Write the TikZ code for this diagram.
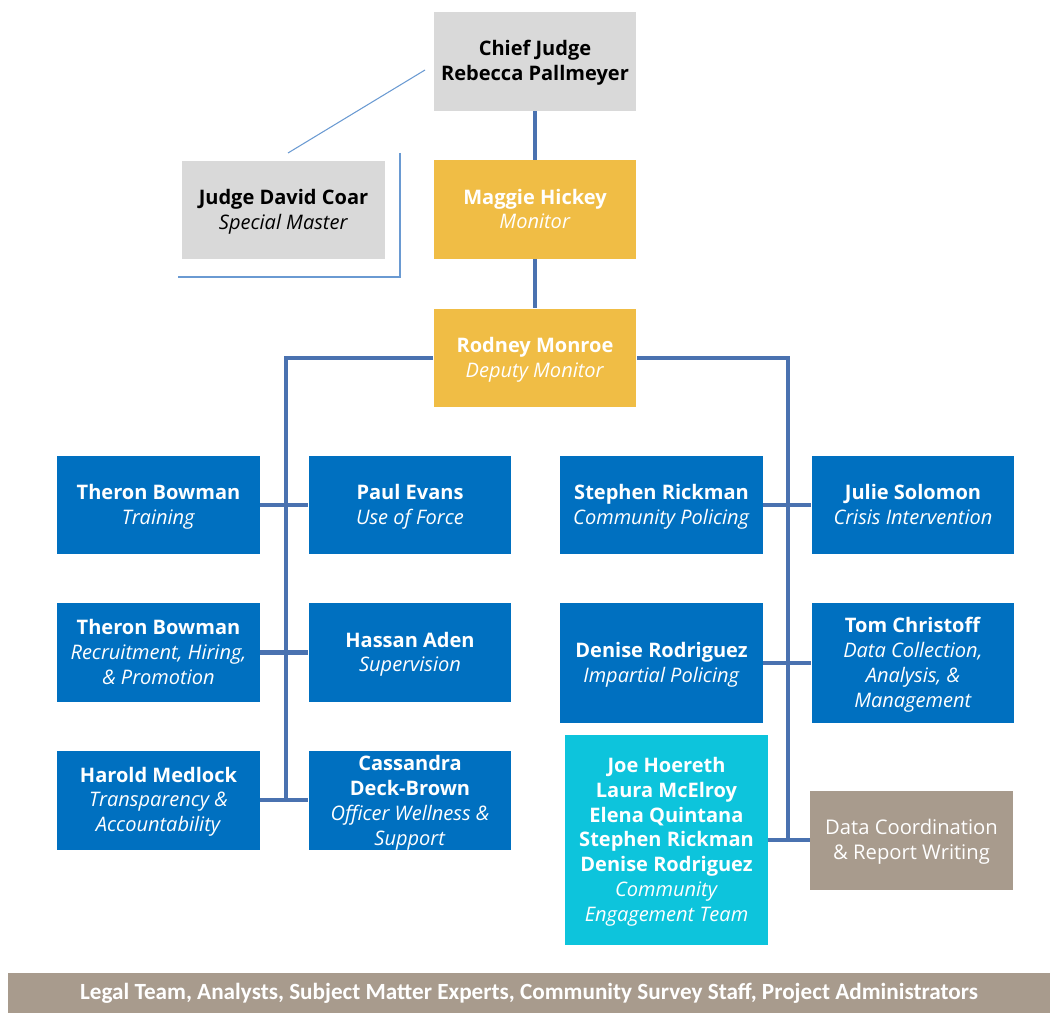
\documentclass[tikz,border=0pt]{standalone}
\usepackage{fontspec}
\setmainfont{Open Sans}
\newfontfamily\barfont{Carlito}

\definecolor{boxgray}{HTML}{D9D9D9}
\definecolor{boxgold}{HTML}{F0BD45}
\definecolor{boxblue}{HTML}{0070C0}
\definecolor{boxcyan}{HTML}{0DC4DC}
\definecolor{boxtaupe}{HTML}{A89B8D}
\definecolor{linkblue}{HTML}{4A72B0}
\definecolor{thinblue}{HTML}{6A9AD2}

% first line of a box, with a little room above it
\newcommand{\topline}[1]{\rule{0pt}{12.2pt}#1}

\tikzset{
    box/.style={minimum width=4.06cm, minimum height=1.98cm, inner sep=0pt, align=center,
        font=\fontsize{11.4}{14.2}\selectfont, execute at end node={\strut}},
    graybox/.style={box, fill=boxgray, text=black},
    goldbox/.style={box, fill=boxgold, text=white},
    bluebox/.style={box, fill=boxblue, text=white},
    link/.style={draw=linkblue, line width=2.3pt},
    thinlink/.style={draw=thinblue, line width=0.6pt}
}

\begin{document}
\begin{tikzpicture}[x=0.02cm, y=-0.02cm]
            \useasboundingbox (0,0) rectangle (1050,1013);

            % top of the chart
            \node[graybox] (chief) at (535,61.5) {\topline{\textbf{Chief Judge}}\\\textbf{Rebecca Pallmeyer}};
            \node[graybox] (coar) at (283.5,210) {\topline{\textbf{Judge David Coar}}\\\textit{Special Master}};
            \node[goldbox] (hickey) at (535,209.5) {\topline{\textbf{Maggie Hickey}}\\\textit{Monitor}};
            \node[goldbox] (monroe) at (535,358) {\topline{\textbf{Rodney Monroe}}\\\textit{Deputy Monitor}};

            % left team
            \node[bluebox] (bowmanA) at (158.5,505) {\topline{\textbf{Theron Bowman}}\\\textit{Training}};
            \node[bluebox] (evans) at (410,505) {\topline{\textbf{Paul Evans}}\\\textit{Use of Force}};
            \node[bluebox] (bowmanB) at (158.5,652.5) {\topline{\textbf{Theron Bowman}}\\\textit{Recruitment, Hiring,}\\\textit{\& Promotion}};
            \node[bluebox] (aden) at (410,652.5) {\topline{\textbf{Hassan Aden}}\\\textit{Supervision}};
            \node[bluebox] (medlock) at (158.5,800) {\topline{\textbf{Harold Medlock}}\\\textit{Transparency \&}\\\textit{Accountability}};
            \node[bluebox, text depth=0pt] (deck) at (410,800) {\textbf{Cassandra}\\\textbf{Deck-Brown}\\\textit{Officer Wellness \&}\\\textit{Support}};

            % right team
            \node[bluebox] (rickman) at (661.5,505) {\topline{\textbf{Stephen Rickman}}\\\textit{Community Policing}};
            \node[bluebox] (solomon) at (913,505) {\topline{\textbf{Julie Solomon}}\\\textit{Crisis Intervention}};
            \node[bluebox, minimum height=2.4cm] (rodriguez) at (661.5,663) {\topline{\textbf{Denise Rodriguez}}\\\textit{Impartial Policing}};
            \node[bluebox, minimum height=2.4cm] (christoff) at (913,663) {\topline{\textbf{Tom Christoff}}\\\textit{Data Collection,}\\\textit{Analysis, \&}\\\textit{Management}};
            \node[box, fill=boxcyan, text=white, minimum height=4.2cm] (engage) at (666.5,840)
                {\topline{\textbf{Joe Hoereth}}\\\textbf{Laura McElroy}\\\textbf{Elena Quintana}\\\textbf{Stephen Rickman}\\\textbf{Denise Rodriguez}\\\textit{Community}\\\textit{Engagement Team}};
            \node[box, fill=boxtaupe, text=white, font=\fontsize{11.5}{14.6}\selectfont] (datacoord) at (911.5,840) {\topline{Data Coordination}\\\& Report Writing};

            % staff bar
            \node[fill=boxtaupe, text=white, minimum width=20.84cm, minimum height=0.8cm, inner sep=0pt,
                font=\barfont\bfseries\fontsize{13.2}{14}\selectfont] (staff) at (529,993)
                {\raisebox{-2pt}{Legal Team, Analysts, Subject Matter Experts, Community Survey Staff, Project Administrators}};

            % special master lines
            \coordinate (diagA) at (425,70);
            \coordinate (diagB) at (288,153);
            \coordinate (brkTop) at (400,153);
            \coordinate (brkCorner) at (400,277);
            \coordinate (brkEnd) at (178,277);
            \draw[thinlink] (diagA) -- (diagB);
            \draw[thinlink] (brkTop) -- (brkCorner) -- (brkEnd);

            % chain of command
            \draw[link] (chief) -- (hickey);
            \draw[link] (hickey) -- (monroe);
            \coordinate (leftEnd) at (286,800);
            \coordinate (rightEnd) at (788,838);
            \draw[link] (monroe.west) -| (leftEnd);
            \draw[link] (monroe.east) -| (rightEnd);

            \draw[link] (bowmanA) -- (evans);
            \draw[link] (bowmanB) -- (aden);
            \draw[link] (medlock) -- (deck);
            \draw[link] (rickman) -- (solomon);
            \draw[link] (rodriguez) -- (christoff);
            \draw[link] (engage) -- (datacoord);
        \end{tikzpicture}
\end{document}
